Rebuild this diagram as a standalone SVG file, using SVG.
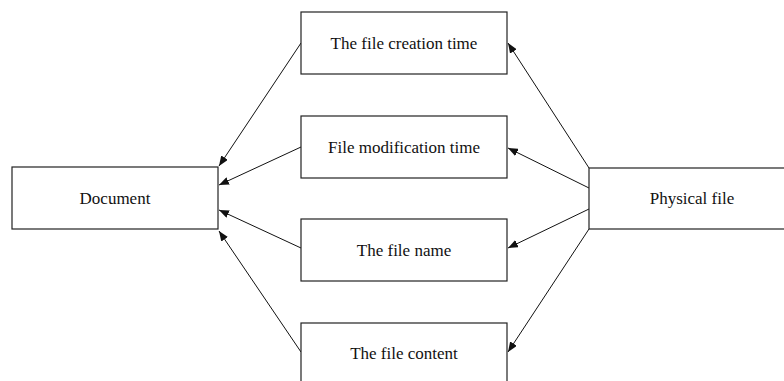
<svg xmlns="http://www.w3.org/2000/svg" width="784" height="381" viewBox="0 0 784 381">
<style>
.box{fill:#fff;stroke:#222;stroke-width:1.2}
.lbl{font-family:'Liberation Serif',serif;font-size:17px;fill:#111;text-anchor:middle}
.edge{stroke:#111;stroke-width:1;fill:none;marker-end:url(#ah)}
</style>
<defs>
<marker id="ah" viewBox="0 0 10 8" refX="10" refY="4" markerWidth="10" markerHeight="8" markerUnits="userSpaceOnUse" orient="auto">
<path d="M0,0 L10,4 L0,8 z" fill="#111"/>
</marker>
</defs>
<rect width="784" height="381" fill="#fff"/>
<g id="connectors">
<line class="edge" x1="301" y1="43" x2="219" y2="166"/>
<line class="edge" x1="301" y1="147" x2="219" y2="185"/>
<line class="edge" x1="301" y1="248" x2="219" y2="210"/>
<line class="edge" x1="301" y1="352" x2="219" y2="231"/>
<line class="edge" x1="589" y1="168" x2="508" y2="43"/>
<line class="edge" x1="589" y1="188" x2="508" y2="148"/>
<line class="edge" x1="589" y1="209" x2="508" y2="248"/>
<line class="edge" x1="589" y1="229" x2="508" y2="352"/>
</g>
<g id="document">
<rect class="box" x="12" y="167" width="206" height="62"/>
<text class="lbl" x="115" y="204">Document</text>
</g>
<g id="creation">
<rect class="box" x="301" y="12" width="206" height="62"/>
<text class="lbl" x="404" y="49">The file creation time</text>
</g>
<g id="modification">
<rect class="box" x="301" y="116" width="206" height="62"/>
<text class="lbl" x="404" y="153">File modification time</text>
</g>
<g id="name">
<rect class="box" x="301" y="219" width="206" height="62"/>
<text class="lbl" x="404" y="256">The file name</text>
</g>
<g id="content">
<rect class="box" x="301" y="323" width="206" height="62"/>
<text class="lbl" x="404" y="359">The file content</text>
</g>
<g id="physical">
<rect class="box" x="589" y="168" width="206" height="61"/>
<text class="lbl" x="692" y="204">Physical file</text>
</g>
</svg>
